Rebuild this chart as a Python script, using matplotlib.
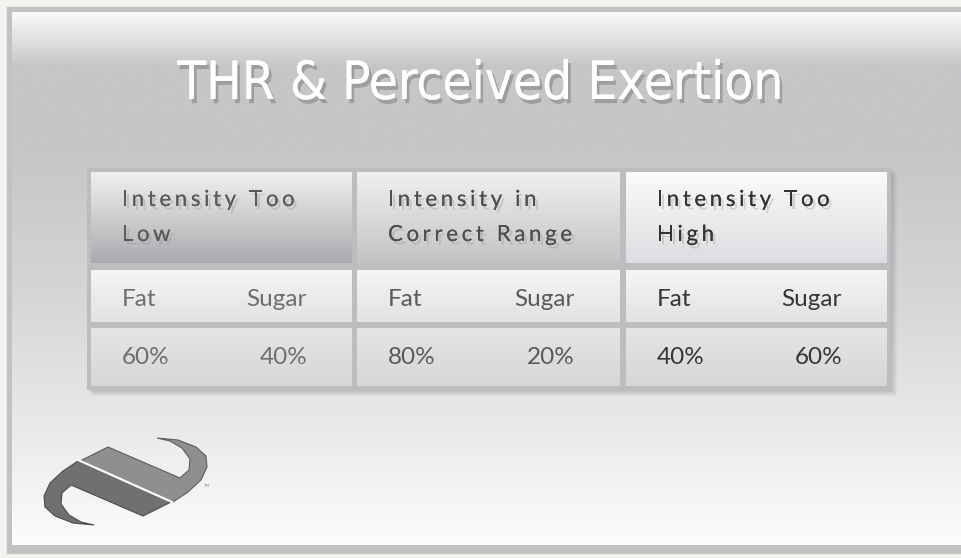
#
#   Slide: THR & Perceived Exertion table
#

import numpy as np
import matplotlib.pyplot as plt
import matplotlib.colors as mcolors
import matplotlib.patheffects as pe
from matplotlib.patches import Rectangle, Polygon

W, H = 962, 558

TITLE = "THR & Perceived Exertion"
ZONES = ["Intensity Too\nLow", "Intensity in\nCorrect Range", "Intensity Too\nHigh"]
FUELS = ["Fat", "Sugar"]
FAT_PCT = [60, 80, 40]
SUGAR_PCT = [40, 20, 60]

# cell geometry (pixels)
COL_X = [(91, 352), (357, 620), (626, 887)]
ROW_Y = [(172, 263), (270, 322), (328, 386)]
HEAD_BOTTOM = ["#a9abae", "#c2c3c5", "#dcdde0"]
HEAD_TOP = ["#f0f0f0", "#f0f0f0", "#fbfbfb"]
HEAD_TXT = ["#5a5a5a", "#4e4e4e", "#333333"]
BODY_TXT = ["#6e6e6e", "#5a5a5a", "#363636"]
FONT = "Lato"
WEIGHT = "normal"

fig = plt.figure(figsize=(W / 100, H / 100), dpi=100)
fig.patch.set_facecolor("#f2f2ef")
ax = fig.add_axes([0, 0, 1, 1])
ax.axis("off")


def vgrad(x0, y0, x1, y1, stops, z=1):
    t = np.linspace(0, 1, 256)
    pos = [p for p, _ in stops]
    cols = np.array([mcolors.to_rgb(c) for _, c in stops])
    img = np.stack([np.interp(t, pos, cols[:, k]) for k in range(3)], axis=-1)[:, None, :]
    ax.imshow(img, extent=(x0, x1, y1, y0), aspect="auto", zorder=z,
              interpolation="bilinear")


renderer = fig.canvas.get_renderer()


def text_w(s, size):
    t = ax.text(0, 0, s + "|", fontsize=size, family=FONT, weight=WEIGHT)
    w = t.get_window_extent(renderer).width
    t.remove()
    t = ax.text(0, 0, "|", fontsize=size, family=FONT, weight=WEIGHT)
    w -= t.get_window_extent(renderer).width
    t.remove()
    return w


def spaced(x, y, s, size, color, track, effects=None):
    for i, ch in enumerate(s):
        off = text_w(s[:i], size) if i else 0
        ax.text(x + off + i * track, y, ch, fontsize=size, family=FONT,
                weight=WEIGHT, color=color, va="baseline", ha="left",
                zorder=6, path_effects=effects)


# slide frame and panel
ax.add_patch(Rectangle((7, 7), W - 7, 546, color="#c2c2c2", zorder=0))
vgrad(12, 12, W, 545, [(0, "#fafafa"), (0.1, "#c5c6c8"), (0.26, "#c5c6c8"),
                       (0.55, "#d6d7d9"), (0.75, "#e6e7e8"), (1, "#fcfcfc")])

# title
ax.text(480, 99, TITLE, fontsize=38, family="DejaVu Sans", fontstretch="condensed",
        color="white", ha="center", va="baseline", zorder=6,
        path_effects=[pe.withSimplePatchShadow(offset=(2, -3), shadow_rgbFace="#555555",
                                               alpha=0.35), pe.Normal()])

# table shadow + frame
for k in range(6, 0, -1):
    ax.add_patch(Rectangle((87 + k, 168 + k), 804, 222, color="#808080",
                           alpha=0.07, zorder=2, lw=0))
ax.add_patch(Rectangle((87, 168), 804, 222, color="#bcbdbf", zorder=3, lw=0))

shadow = [pe.withSimplePatchShadow(offset=(2, -2.5), shadow_rgbFace="#8a8a8a",
                                   alpha=0.3), pe.Normal()]

for c, (x0, x1) in enumerate(COL_X):
    # header
    y0, y1 = ROW_Y[0]
    vgrad(x0, y0, x1, y1, [(0, HEAD_TOP[c]), (1, HEAD_BOTTOM[c])], z=4)
    for j, line in enumerate(ZONES[c].split("\n")):
        spaced(x0 + 31, 206 + 35 * j, line, 16, HEAD_TXT[c], 3.6, effects=shadow)
    # fuel names
    y0, y1 = ROW_Y[1]
    vgrad(x0, y0, x1, y1, [(0, "#f5f5f5"), (1, "#e1e2e3")], z=4)
    ax.text(x0 + 31, 306, FUELS[0], fontsize=17.5, family=FONT, weight=WEIGHT,
            color=BODY_TXT[c], va="baseline", zorder=6)
    ax.text(x1 - 45, 306, FUELS[1], fontsize=17.5, family=FONT, weight=WEIGHT,
            color=BODY_TXT[c], va="baseline", ha="right", zorder=6)
    # percentages
    y0, y1 = ROW_Y[2]
    vgrad(x0, y0, x1, y1, [(0, "#e4e5e6"), (1, "#d5d6d8")], z=4)
    ax.text(x0 + 31, 364, f"{FAT_PCT[c]}%", fontsize=17.5, family=FONT,
            weight=WEIGHT, color=BODY_TXT[c], va="baseline", zorder=6)
    ax.text(x1 - 45, 364, f"{SUGAR_PCT[c]}%", fontsize=17.5, family=FONT,
            weight=WEIGHT, color=BODY_TXT[c], va="baseline", ha="right", zorder=6)

# logo (two point-symmetric hooks)
upper = np.array([(80, 461), (108, 447), (180, 478), (189, 470), (190, 459),
                  (182, 448), (170, 441), (157, 438), (178, 440), (196, 447),
                  (206, 456), (207, 467), (201, 480), (188, 492), (173, 502)])
centre = np.array([125.5, 481.5])
lower = 2 * centre - upper
ax.add_patch(Polygon(upper, closed=True, fc="#8e8f91", ec="#5c5d5f", lw=0.8, zorder=5))
ax.add_patch(Polygon(lower, closed=True, fc="#6f7072", ec="#4a4b4d", lw=0.8, zorder=5))
ax.plot([78, 172], [460, 502], color="white", lw=1.6, zorder=6)
ax.text(203, 487, "TM", fontsize=3, color="#888888", zorder=6)

ax.set_xlim(0, W)
ax.set_ylim(H, 0)
fig.savefig("out.png", dpi=100)
